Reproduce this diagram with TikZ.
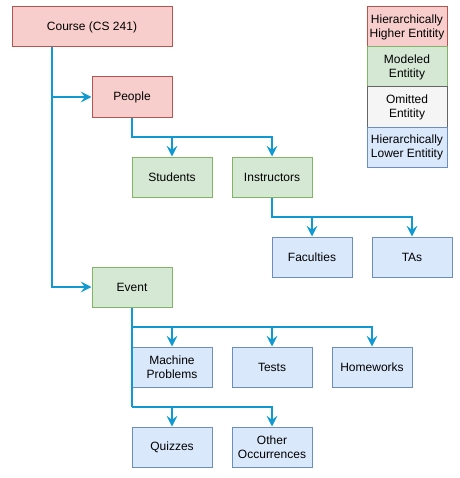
\documentclass[tikz,border=0pt]{standalone}
\usepackage{fontspec}
\setmainfont{Liberation Sans}
\usetikzlibrary{arrows.meta}
\definecolor{linec}{HTML}{1299D2}
\definecolor{redf}{HTML}{F8CECC}\definecolor{redd}{HTML}{B85450}
\definecolor{grnf}{HTML}{D5E8D4}\definecolor{grnd}{HTML}{82B366}
\definecolor{gryf}{HTML}{F5F5F5}\definecolor{gryd}{HTML}{666666}
\definecolor{bluf}{HTML}{DAE8FC}\definecolor{blud}{HTML}{6C8EBF}
\tikzset{
  box/.style={draw, line width=0.75pt, minimum width=60pt, minimum height=30pt, inner sep=1pt, align=center, font=\fontsize{9}{10.5}\selectfont},
  hi/.style={box, fill=redf, draw=redd},
  mo/.style={box, fill=grnf, draw=grnd},
  om/.style={box, fill=gryf, draw=gryd},
  lo/.style={box, fill=bluf, draw=blud},
  conn/.style={draw=linec, line width=1.5pt},
  arr/.style={conn, -{Stealth[length=8pt, width=8pt, inset=3pt]}},
}
\begin{document}
\begin{tikzpicture}[x=0.75pt, y=-0.75pt]
\useasboundingbox (0,0) rectangle (460,478);
\node[hi, minimum width=120pt] (course) at (92,27) {Course (CS 241)};
\node[hi] (people) at (132,97) {People};
\node[mo] (students) at (172,177) {Students};
\node[mo] (instr) at (272,177) {Instructors};
\node[lo] (fac) at (312,257) {Faculties};
\node[lo] (tas) at (412,257) {TAs};
\node[mo] (event) at (132,287) {Event};
\node[lo] (mp) at (172,367) {Machine\\Problems};
\node[lo] (tests) at (272,367) {Tests};
\node[lo] (hw) at (372,367) {Homeworks};
\node[lo] (quiz) at (172,447) {Quizzes};
\node[lo] (other) at (272,447) {Other\\Occurrences};
\node[hi] (l1) at (407,27) {Hierarchically\\Higher Entitity};
\node[mo] (l2) at (407,67) {Modeled\\Entitity};
\node[om] (l3) at (407,107) {Omitted\\Entitity};
\node[lo] (l4) at (407,147) {Hierarchically\\Lower Entitity};
% connectors
\coordinate (c1) at (52,47);
\draw[arr] (c1) |- (people.west);
\draw[arr] (c1) |- (event.west);
\coordinate (p1) at (132,137);
\draw[arr] (people.south) -- (p1) -| (students.north);
\draw[arr] (p1) -| (instr.north);
\coordinate (i1) at (272,217);
\draw[arr] (instr.south) -- (i1) -| (fac.north);
\draw[arr] (i1) -| (tas.north);
\coordinate (e1) at (132,327);
\coordinate (e2) at (132,407);
\draw[conn] (event.south) -- (e2);
\draw[arr] (e1) -| (mp.north);
\draw[arr] (e1) -| (tests.north);
\draw[arr] (e1) -| (hw.north);
\draw[arr] (e2) -| (quiz.north);
\draw[arr] (e2) -| (other.north);
\end{tikzpicture}
\end{document}
